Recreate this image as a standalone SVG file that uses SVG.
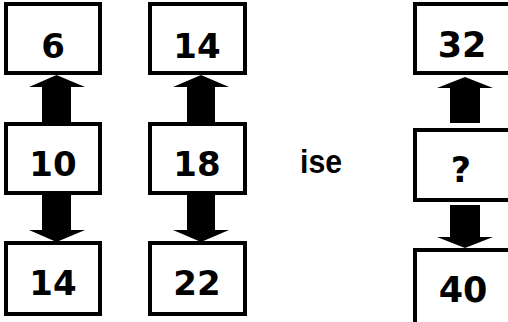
<svg xmlns="http://www.w3.org/2000/svg" width="508" height="322" viewBox="0 0 508 322">
<style>
.box{fill:#fff;stroke:#000;stroke-width:4}
.num{font-family:"DejaVu Sans",sans-serif;font-weight:bold;font-size:34px;text-anchor:middle;fill:#000}
.num2{font-family:"DejaVu Sans",sans-serif;font-weight:bold;font-size:35px;text-anchor:middle;fill:#000}
.arr{fill:#000}
</style>
<rect width="508" height="322" fill="#fff"/>
<g id="connectors">
<polygon class="arr" points="56.5,75 85,87 71,87 71,123 42,123 42,87 29,87"/>
<polygon class="arr" points="42,194 71,194 71,230 85,230 56.5,242 29,230 42,230"/>
<polygon class="arr" points="201,75 229,87 215,87 215,123 187,123 187,87 173,87"/>
<polygon class="arr" points="187,194 215,194 215,230 229,230 201,242 173,230 187,230"/>
<polygon class="arr" points="465,77 493,88 480,88 480,123 450,123 450,88 437,88"/>
<polygon class="arr" points="450,205 480,205 480,237 493,237 465,248 437,237 450,237"/>
</g>
<g id="n6"><rect class="box" x="6" y="4" width="94" height="69"/><text class="num" x="53" y="58">6</text></g>
<g id="n10"><rect class="box" x="6" y="124" width="94" height="69"/><text class="num" x="53" y="176">10</text></g>
<g id="n14a"><rect class="box" x="6" y="243" width="94" height="71"/><text class="num" x="53" y="295">14</text></g>
<g id="n14b"><rect class="box" x="150" y="4" width="95" height="69"/><text class="num" x="197" y="58">14</text></g>
<g id="n18"><rect class="box" x="150" y="124" width="95" height="69"/><text class="num" x="197" y="176">18</text></g>
<g id="n22"><rect class="box" x="150" y="243" width="95" height="71"/><text class="num" x="197" y="295">22</text></g>
<g id="ise"><text x="300" y="173" font-family="Liberation Sans,sans-serif" font-weight="bold" font-size="33" textLength="42" lengthAdjust="spacingAndGlyphs">ise</text></g>
<g id="n32"><rect class="box" x="415" y="4" width="100" height="69"/><text class="num2" x="462" y="57">32</text></g>
<g id="nq"><rect class="box" x="415" y="130" width="100" height="70"/><text class="num2" x="461" y="182">?</text></g>
<g id="n40"><rect class="box" x="415" y="250" width="100" height="80"/><text class="num2" x="463" y="302">40</text></g>
</svg>
